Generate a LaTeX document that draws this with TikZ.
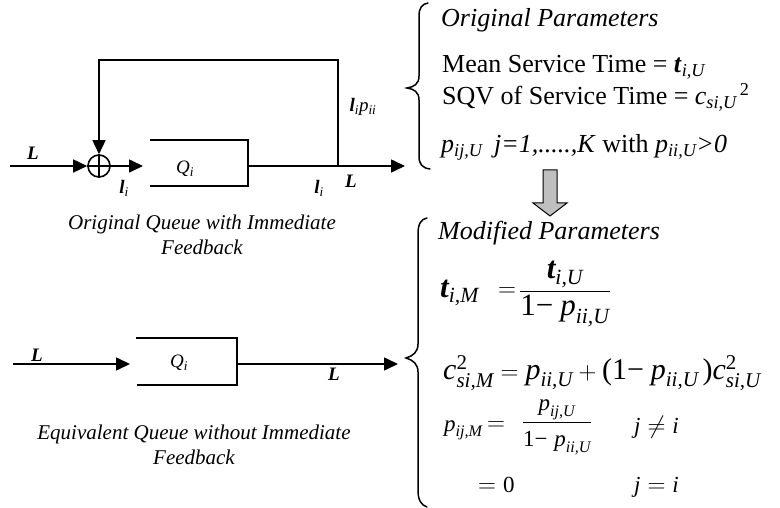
\documentclass[tikz,border=0pt]{standalone}
\usepackage{fontspec}
\usepackage{amsmath}
\setmainfont{Liberation Serif}
\usetikzlibrary{arrows.meta}

% letters set in the text face inside formulas
\newcommand{\vi}[1]{\text{\normalfont\itshape #1}}
\newcommand{\vb}[1]{\text{\normalfont\bfseries\itshape #1}}
\newcommand{\vr}[1]{\text{\normalfont #1}}
\newcommand{\tminus}{\mathord{\vr{−}}}
\newcommand{\bil}[1]{\textbf{\textit{#1}}}

\tikzset{
  wire/.style={line width=1.6pt},
  flow/.style={wire, -{Triangle[length=14pt,width=13pt]}},
  lbl/.style={inner sep=0pt, font=\fontsize{19}{22}\selectfont},
  captxt/.style={inner sep=0pt, align=center, font=\fontsize{21}{25}\selectfont\itshape},
  partxt/.style={inner sep=0pt, anchor=base west, font=\fontsize{26}{30}\selectfont},
  eqtau/.style={inner sep=0pt, font=\fontsize{31}{36}\selectfont},
  eqbig/.style={inner sep=0pt, font=\fontsize{30}{36}\selectfont},
  eqsmall/.style={inner sep=0pt, font=\fontsize{23}{27}\selectfont},
  brc/.style={line width=1.5pt, line cap=round},
}

\begin{document}
\begin{tikzpicture}[x=1pt,y=-1pt]
\useasboundingbox (0,0) rectangle (780,508);

% ---------- queue with immediate feedback ----------
\node[draw, circle, wire, minimum size=22pt, inner sep=0pt] (sum) at (99,166) {};
\draw[wire] (sum.north) -- (sum.south) (sum.west) -- (sum.east);

\coordinate (srcA)  at (10,166);
\coordinate (inQA)  at (143,166);
\coordinate (boxTL) at (150,140);
\coordinate (boxTR) at (248,140);
\coordinate (boxBR) at (248,186);
\coordinate (boxBL) at (150,186);
\coordinate (outQA) at (248,166);
\coordinate (tap)   at (338,166);
\coordinate (fbR)   at (338,60);
\coordinate (fbL)   at (99,60);
\coordinate (sinkA) at (405,166);

\draw[flow] (srcA) -- (sum.west);
\draw[flow] (sum.east) -- (inQA);
\draw[wire] (boxTL) -- (boxTR) -- (boxBR) -- (boxBL);
\draw[flow] (outQA) -- (sinkA);
\draw[flow] (tap) -- (fbR) -- (fbL) -- (sum.north);

\node[lbl] (lamA)   at (33,153)  {\bil{L}};
\node[lbl] (lamIn)  at (124,188) {\bil{l}\textsubscript{\itshape i}};
\node[lbl] (qA)     at (185,169) {\textit{Q}\textsubscript{\itshape i}};
\node[lbl] (lamOut) at (319,188) {\bil{l}\textsubscript{\itshape i}};
\node[lbl] (lamB)   at (351,181) {\bil{L}};
\node[lbl] (fbLbl)  at (363,107) {\bil{l}\textsubscript{\itshape i}\textit{p}\textsubscript{\itshape ii}};

\node[captxt] (capA) at (202,234.5) {Original Queue with Immediate\\Feedback};

% ---------- equivalent queue ----------
\coordinate (srcB)   at (13,364);
\coordinate (inQB)   at (130,364);
\coordinate (boxBTL) at (136,338);
\coordinate (boxBTR) at (237,338);
\coordinate (boxBBR) at (237,385);
\coordinate (boxBBL) at (137,385);
\coordinate (outQB)  at (237,364);
\coordinate (sinkB)  at (398,364);

\draw[flow] (srcB) -- (inQB);
\draw[wire] (boxBTL) -- (boxBTR) -- (boxBBR) -- (boxBBL);
\draw[flow] (outQB) -- (sinkB);

\node[lbl] (lamC) at (37,355)  {\bil{L}};
\node[lbl] (qB)   at (179,363) {\textit{Q}\textsubscript{\itshape i}};
\node[lbl] (lamD) at (334,374) {\bil{L}};

\node[captxt] (capB) at (194,444.5) {Equivalent Queue without Immediate\\Feedback};

% ---------- original parameters ----------
\draw[brc] (428,3) .. controls (422,4) and (419,8) .. (419,16) -- (419,76)
  .. controls (419,84) and (414,87) .. (407,88)
  .. controls (414,89) and (419,92) .. (419,100) -- (419,156)
  .. controls (419,164) and (422,168) .. (430,169);

\node[partxt] (origP) at (441,27)  {\itshape Original Parameters};
\node[partxt] (meanT) at (442,73)  {Mean Service Time = \bil{t}\textsubscript{\itshape i,U}};
\node[partxt] (sqvT)  at (442,105) {SQV of Service Time = \textit{c}\textsubscript{\itshape si,U}\textsuperscript{\,2}};
\node[partxt] (route) at (441,153) {\textit{p}\textsubscript{\itshape ij,U}\hspace{0.45em}\textit{j=1,.....,K} with \textit{p}\textsubscript{\itshape ii,U}\textit{>0}};

% transformation arrow
\draw[line width=1pt, fill=black!25] (543,170) -- (557,170) -- (557,203) -- (567,203)
  -- (550,216) -- (533,203) -- (543,203) -- cycle;

% ---------- modified parameters ----------
\draw[brc] (427,218) .. controls (421,219) and (418,224) .. (418,234) -- (418,344)
  .. controls (418,352) and (413,356) .. (406,358)
  .. controls (413,360) and (418,364) .. (418,372) -- (418,490)
  .. controls (418,500) and (421,505) .. (427,507);

\node[partxt] (modP) at (438,240) {\itshape Modified Parameters};

\node[eqtau, anchor=west] (tauL) at (440,293) {$\vb{t}_{\vi{i,M}}$};
\node[eqbig] (tauEq) at (507,292) {$=$};
\node[eqtau] (tauR)  at (565,294) {$\dfrac{\vb{t}_{\vi{i,U}}}{\vr{1}\tminus\;\vi{p}_{\vi{ii,U}}}$};

\node[eqbig, anchor=base west] (scv) at (443,379)
  {$\vi{c}^{\vr{2}}_{\vi{si,M}} = \vi{p}_{\vi{ii,U}} + \vr{(}\vr{1}\tminus\;\vi{p}_{\vi{ii,U}}\,\vr{)}\vi{c}^{\vr{2}}_{\vi{si,U}}$};

\node[eqsmall, anchor=base west] (pL)  at (444,431) {$\vi{p}_{\vi{ij,M}}$};
\node[eqsmall] (pEq) at (496,426) {$=$};
\node[eqsmall] (pR)  at (557,427) {$\dfrac{\vi{p}_{\vi{ij,U}}}{\vr{1}\tminus\;\vi{p}_{\vi{ii,U}}}$};
\node[eqsmall, anchor=base west] (pC1) at (634,433) {$\vi{j}\neq\vi{i}$};
\node[eqsmall, anchor=base west] (pZ)  at (478,492) {$=\vr{0}$};
\node[eqsmall, anchor=base west] (pC2) at (634,492) {$\vi{j}=\vi{i}$};

\end{tikzpicture}
\end{document}
